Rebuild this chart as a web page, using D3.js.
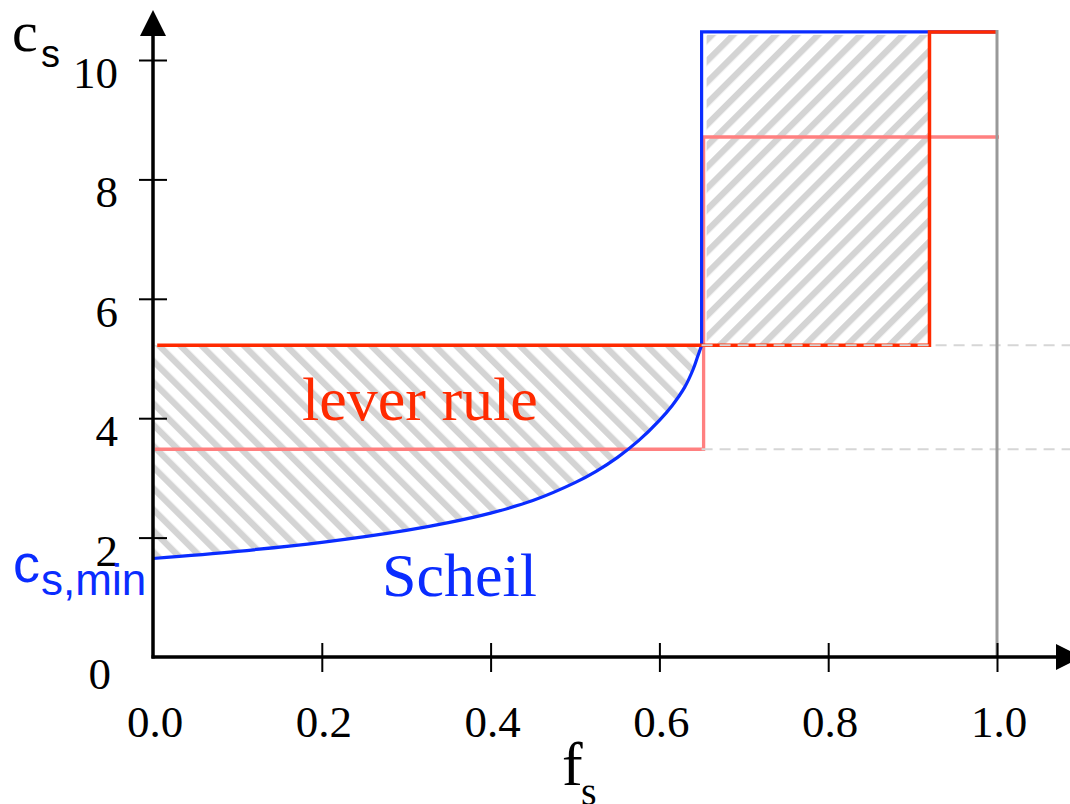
<!DOCTYPE html>
<html>
<head>
<meta charset="utf-8">
<script src="https://cdn.jsdelivr.net/npm/d3@7"></script>
<style>
  html, body { margin: 0; padding: 0; background: #fff; }
  svg { display: block; }
</style>
</head>
<body>
<svg id="chart" width="1070" height="804"></svg>
<script>
// ---- data ----
const xTickValues = [0, 0.2, 0.4, 0.6, 0.8, 1.0];
const xTickLabels = ["0.0", "0.2", "0.4", "0.6", "0.8", "1.0"];
const yTickValues = [0, 2, 4, 6, 8, 10];
const yTickLabels = ["0", "2", "4", "6", "8", "10"];

// Scheil curve
const scheilF = [0, 0.1, 0.2, 0.3, 0.35, 0.4, 0.45, 0.5, 0.525, 0.55, 0.575, 0.6, 0.615, 0.63, 0.64, 0.645, 0.65];
const scheilC = [1.65, 1.77, 1.92, 2.12, 2.25, 2.41, 2.62, 2.92, 3.11, 3.34, 3.62, 3.965, 4.21, 4.52, 4.82, 5.02, 5.22];

const fEut = 0.65;       // f where the jump happens
const fLever2 = 0.92;    // right edge of upper lever box
const cLever = 5.22;     // lever rule concentration
const cLow = 3.48;       // lighter (salmon) level
const cHigh2 = 8.71;     // salmon upper level
const cTop = 10.47;      // top level

// ---- layout ----
const svg = d3.select("#chart");
const x = d3.scaleLinear().domain([0, 1]).range([153, 997]);
const y = d3.scaleLinear().domain([0, 10]).range([657, 60]);

const BLUE = "#0a2cff", RED = "#ff2a00", SALMON = "#ff8080", HATCH = "#d4d4d4";

const defs = svg.append("defs");
function hatch(id, angle) {
  const p = defs.append("pattern").attr("id", id)
    .attr("patternUnits", "userSpaceOnUse").attr("width", 15).attr("height", 15)
    .attr("patternTransform", `rotate(${angle})`);
  p.append("rect").attr("x", 0).attr("y", 0).attr("width", 6.3).attr("height", 15).attr("fill", HATCH);
}
hatch("hatchL", -45);
hatch("hatchR", 45);

const curve = d3.curveCatmullRom.alpha(0.5);

// left hatched area: between Scheil curve and lever line
const pts = scheilF.map((f, i) => [f, scheilC[i]]);
const area = d3.area().x(d => x(d[0])).y0(d => y(d[1])).y1(y(cLever)).curve(curve);
svg.append("path").attr("d", area(pts)).attr("fill", "url(#hatchL)");

// right hatched box
svg.append("rect")
  .attr("x", x(fEut) + 5).attr("y", y(cTop) + 3)
  .attr("width", x(fLever2) - x(fEut) - 6).attr("height", y(cLever) - y(cTop) - 3)
  .attr("fill", "url(#hatchR)");

const line = d3.line().x(d => x(d[0])).y(d => y(d[1]));

// salmon path
svg.append("path")
  .attr("d", line([[0, cLow], [fEut, cLow], [fEut, cHigh2], [1.0, cHigh2]]))
  .attr("transform", "translate(2,0)")
  .attr("fill", "none").attr("stroke", SALMON).attr("stroke-width", 3.3);

// blue Scheil + jump
const blueLine = d3.line().x(d => x(d[0])).y(d => y(d[1])).curve(curve);
svg.append("path").attr("d", blueLine(pts))
  .attr("fill", "none").attr("stroke", BLUE).attr("stroke-width", 3.2);
svg.append("path")
  .attr("d", line([[fEut, cLever], [fEut, cTop], [1.0, cTop]]))
  .attr("fill", "none").attr("stroke", BLUE).attr("stroke-width", 3.2);

// red lever rule lines
svg.append("path")
  .attr("d", line([[0.005, cLever], [fEut, cLever]]))
  .attr("fill", "none").attr("stroke", RED).attr("stroke-width", 3.5);
svg.append("path")
  .attr("d", line([[fEut, cLever], [fLever2, cLever], [fLever2, cTop], [1.0, cTop]]))
  .attr("fill", "none").attr("stroke", RED).attr("stroke-width", 3.5);

// gray dashed guide lines
[cLever, cLow].forEach(c => {
  svg.append("line")
    .attr("x1", x(fEut)).attr("x2", 1070).attr("y1", y(c)).attr("y2", y(c))
    .attr("stroke", "#d6d6d6").attr("stroke-width", 2).attr("stroke-dasharray", "11,7");
});

// gray vertical at f=1
svg.append("line")
  .attr("x1", x(1)).attr("x2", x(1)).attr("y1", y(0)).attr("y2", y(cTop) - 2)
  .attr("stroke", "#999").attr("stroke-width", 3);

// ---- axes ----
const xAxis = d3.axisBottom(x).tickValues(xTickValues.filter(v => v > 0)).tickSize(14).tickFormat("");
const gx = svg.append("g").attr("transform", `translate(0,${y(0)})`).call(xAxis);
gx.select(".domain").remove();
gx.selectAll(".tick line").attr("y1", -14).attr("y2", 15).attr("stroke", "#000").attr("stroke-width", 2);

const yAxis = d3.axisLeft(y).tickValues(yTickValues.filter(v => v > 0)).tickSize(14).tickFormat("");
const gy = svg.append("g").attr("transform", `translate(${x(0)},0)`).call(yAxis);
gy.select(".domain").remove();
gy.selectAll(".tick line").attr("x1", -14).attr("x2", 14).attr("stroke", "#000").attr("stroke-width", 2);

// axis lines with arrows
svg.append("line").attr("x1", x(0)).attr("x2", x(0)).attr("y1", y(0) + 1.5).attr("y2", 30)
  .attr("stroke", "#000").attr("stroke-width", 3.5);
svg.append("line").attr("x1", x(0) - 1.5).attr("x2", 1060).attr("y1", y(0)).attr("y2", y(0))
  .attr("stroke", "#000").attr("stroke-width", 3.5);
svg.append("path").attr("d", `M${x(0)},10 L${x(0) - 13},36 L${x(0) + 13},36 Z`).attr("fill", "#000");
svg.append("path").attr("d", `M1056,644 L1082,${y(0)} L1056,670 Z`).attr("fill", "#000");

// tick labels
const serif = "'Liberation Serif', 'Times New Roman', serif";
const sans = "'Liberation Sans', Arial, sans-serif";
svg.append("g").selectAll("text").data(xTickValues).join("text")
  .attr("x", (d, i) => x(d) + 2).attr("y", 737)
  .attr("text-anchor", "middle").attr("font-family", serif).attr("font-size", 45)
  .text((d, i) => xTickLabels[i]);
svg.append("g").selectAll("text").data(yTickValues).join("text")
  .attr("x", d => d === 0 ? 111 : 118).attr("y", d => y(d) + (d === 0 ? 32 : 28))
  .attr("text-anchor", "end").attr("font-family", serif).attr("font-size", 45)
  .text((d, i) => yTickLabels[i]);

// axis titles
const ct = svg.append("text").attr("x", 12).attr("y", 51).attr("font-family", serif).attr("font-size", 58);
ct.append("tspan").text("c");
ct.append("tspan").attr("x", 41).attr("y", 67).attr("font-family", sans).attr("font-size", 38).text("s");

const ft = svg.append("text").attr("x", 562).attr("y", 785).attr("font-family", serif).attr("font-size", 62);
ft.append("tspan").text("f");
ft.append("tspan").attr("x", 581).attr("y", 805).attr("font-size", 40).text("s");

// annotations
svg.append("text").attr("x", 302).attr("y", 420).attr("font-family", serif).attr("font-size", 62)
  .attr("fill", RED).text("lever rule");
svg.append("text").attr("x", 382).attr("y", 596).attr("font-family", serif).attr("font-size", 62)
  .attr("fill", BLUE).text("Scheil");

const cm = svg.append("text").attr("x", 13).attr("y", 582).attr("font-family", sans).attr("font-size", 54).attr("fill", BLUE);
cm.append("tspan").text("c");
cm.append("tspan").attr("x", 41).attr("y", 595).attr("font-size", 44).text("s,min");
</script>
</body>
</html>
